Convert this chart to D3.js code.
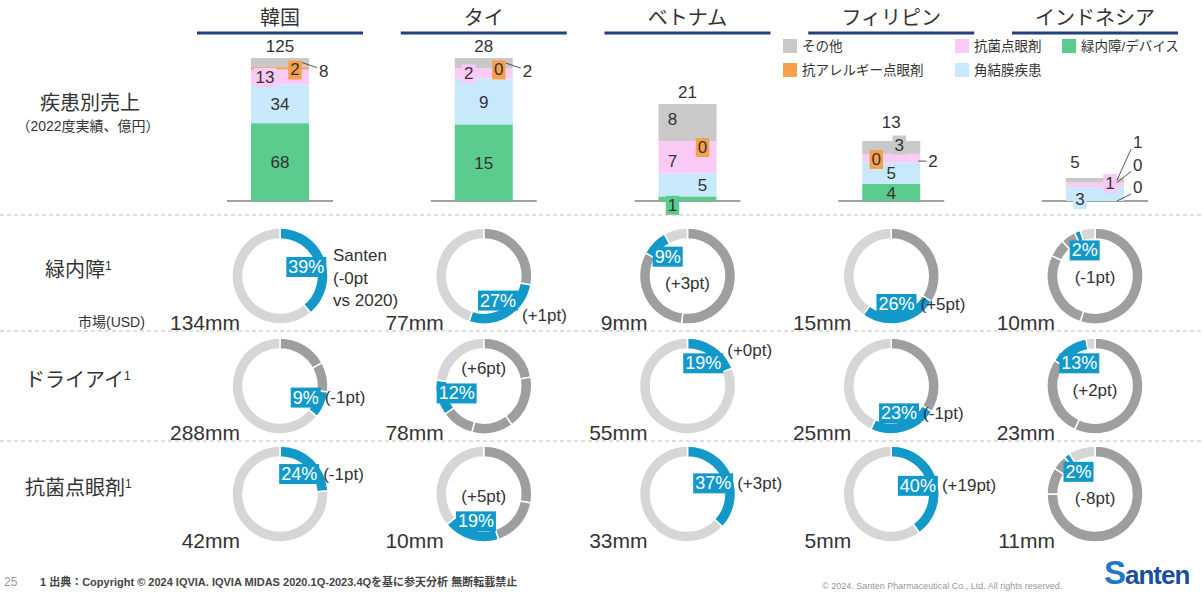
<!DOCTYPE html>
<html>
<head>
<meta charset="utf-8">
<title>asia-sales-share</title>
<style>
  body { margin: 0; background: #fff; }
  svg text { font-family: "Liberation Sans", "Noto Sans CJK JP", sans-serif; fill: #333; }
</style>
</head>
<body>
<script src="https://cdn.jsdelivr.net/npm/d3@7/dist/d3.min.js"></script>
<script>
/*========= DATA =========*/
var countries = ['韓国', 'タイ', 'ベトナム', 'フィリピン', 'インドネシア'];

// 疾患別売上 (2022度実績、億円)
var salesTotal   = [125, 28, 21, 13, 5];
var glaucomaSales = [68, 15, 1, 4, 0];   // 緑内障/デバイス
var corneaSales   = [34, 9, 5, 5, 3];    // 角結膜疾患
var antibacSales  = [13, 2, 7, 2, 1];    // 抗菌点眼剤
var allergySales  = [2, 0, 0, 0, 0];     // 抗アレルギー点眼剤
var otherSales    = [8, 2, 8, 3, 1];     // その他

var categoryKeys   = ['glaucoma', 'cornea', 'antibac', 'allergy', 'other'];
var categoryNames  = ['緑内障/デバイス', '角結膜疾患', '抗菌点眼剤', '抗アレルギー点眼剤', 'その他'];

// donut rows
var diseases   = ['緑内障', 'ドライアイ', '抗菌点眼剤'];
var marketSize = [[134, 77, 9, 15, 10], [288, 78, 55, 25, 23], [42, 10, 33, 5, 11]];
var santenShare = [[39, 27, 9, 26, 2], [9, 12, 19, 23, 13], [24, 19, 37, 40, 2]];
var shareChange = [['-0', '+1', '+3', '+5', '-1'], ['-1', '+6', '+0', '-1', '+2'], ['-1', '+5', '+3', '+19', '-8']];
// competitor shares drawn clockwise before Santen
var competitorShares = [
    [[], [28], [52, 31], [34], [55, 27, 6, 5]],
    [[17, 10], [22, 18, 14, 11], [], [34], [57, 27]],
    [[], [28, 17], [], [], [75, 9, 5]]
];

/*========= STYLE / LAYOUT =========*/
var catColor = {
    glaucoma: '#5ccb8e', cornea: '#c8e9fb', antibac: '#fbcaf5', allergy: '#f7a04b', other: '#c9c9c9'
};
var santenBlue = '#1399c9', darkGray = '#9d9ea0', lightGray = '#d6d6d6';

// placement of the value labels on each bar
var barLabelLayout = {
    '韓国':      { totalDx: 0, totalDy: 0, glaucoma: {m: 'in'}, cornea: {m: 'in'}, antibac: {m: 'box', dx: -15, dy: 0}, allergy: {m: 'box', dx: 15, dy: 1}, other: {m: 'out', dx: 10, dy: 8} },
    'タイ':      { totalDx: 0, totalDy: 0, glaucoma: {m: 'in'}, cornea: {m: 'in'}, antibac: {m: 'box', dx: -15, dy: 0}, allergy: {m: 'box', dx: 15, dy: 1}, other: {m: 'out', dx: 10, dy: 8} },
    'ベトナム':   { totalDx: 0, totalDy: 0, glaucoma: {m: 'box', dx: -15, dy: 6}, cornea: {m: 'in', dx: 15}, antibac: {m: 'in', dx: -15, dy: 4}, allergy: {m: 'box', dx: 15, dy: 6}, other: {m: 'in', dx: -15, dy: -4} },
    'フィリピン': { totalDx: 0, totalDy: -7, glaucoma: {m: 'in'}, cornea: {m: 'in'}, antibac: {m: 'out', dx: 8, dy: 3, flat: true}, allergy: {m: 'box', dx: -15, dy: 5}, other: {m: 'box', dx: 8, dy: -3} },
    'インドネシア': { totalDx: -20, totalDy: -4, glaucoma: {m: 'out', dx: 9, dy: -14}, cornea: {m: 'box', dx: -15, dy: 5}, antibac: {m: 'box', dx: 15, dy: -2}, allergy: {m: 'out', dx: 9, dy: -18}, other: {m: 'out', dx: 9, dy: -38} }
};
// where the "(±pt)" note sits relative to the blue label
var notePlace = [
    ['santen', 'rightDown', 'below', 'right', 'below'],
    ['right', 'above', 'rightUp', 'right', 'below'],
    ['right', 'above', 'right', 'right', 'below']
];

var svgWidth = 1203, svgHeight = 593;
var svg = d3.select('body').append('svg').attr('width', svgWidth).attr('height', svgHeight);

var x = d3.scalePoint().domain(countries).range([280, 1095]);

/*========= HEADERS =========*/
var head = svg.append('g').attr('class', 'heads');
head.selectAll('text').data(countries).enter().append('text')
    .attr('x', function (d) { return x(d); }).attr('y', 25)
    .attr('text-anchor', 'middle').attr('font-size', 20).style('fill', '#333')
    .text(function (d) { return d; });
head.selectAll('line').data(countries).enter().append('line')
    .attr('x1', function (d) { return x(d) - 83; }).attr('x2', function (d) { return x(d) + 83; })
    .attr('y1', 33).attr('y2', 33).attr('stroke', '#20407f').attr('stroke-width', 3);

svg.append('text').attr('x', 90).attr('y', 110).attr('text-anchor', 'middle')
    .attr('font-size', 20).text('疾患別売上');
svg.append('text').attr('x', 88).attr('y', 131).attr('text-anchor', 'middle')
    .attr('font-size', 14).text('（2022度実績、億円）');

/*========= LEGEND =========*/
var legendItems = [
    {k: 'other', x: 783, y: 39}, {k: 'antibac', x: 955, y: 39}, {k: 'glaucoma', x: 1062, y: 39},
    {k: 'allergy', x: 783, y: 63}, {k: 'cornea', x: 955, y: 63}
];
var legend = svg.append('g').attr('class', 'legend');
legendItems.forEach(function (it) {
    legend.append('rect').attr('x', it.x).attr('y', it.y).attr('width', 14).attr('height', 14)
        .attr('fill', catColor[it.k]);
    legend.append('text').attr('x', it.x + 19).attr('y', it.y + 12).attr('font-size', 13.5)
        .text(categoryNames[categoryKeys.indexOf(it.k)]);
});

/*========= STACKED BARS =========*/
var baseY = 201, barW = 58;
var hScale = d3.scaleLinear().domain([0, 21, 28]).range([0, 97, 143]).clamp(true);

var rows = countries.map(function (c, i) {
    return { country: c, glaucoma: glaucomaSales[i], cornea: corneaSales[i], antibac: antibacSales[i],
             allergy: allergySales[i], other: otherSales[i] };
});
var stackData = d3.stack().keys(categoryKeys)(rows);
var yScales = rows.map(function (r, i) {
    var sum = d3.sum(categoryKeys, function (k) { return r[k]; });
    return d3.scaleLinear().domain([0, sum]).range([baseY, baseY - hScale(salesTotal[i])]);
});

var bars = svg.append('g').attr('class', 'bars');
bars.selectAll('.base').data(countries).enter().append('line').attr('class', 'base')
    .attr('x1', function (d) { return x(d) - 53; }).attr('x2', function (d) { return x(d) + 53; })
    .attr('y1', baseY).attr('y2', baseY).attr('stroke', '#444').attr('stroke-width', 1);

bars.selectAll('.series').data(stackData).enter().append('g').attr('class', 'series')
    .attr('fill', function (d) { return catColor[d.key]; })
    .selectAll('rect').data(function (d) { return d; }).enter().append('rect')
    .attr('x', function (d) { return x(d.data.country) - barW / 2; })
    .attr('width', barW)
    .attr('y', function (d, i) { return yScales[i](d[1]); })
    .attr('height', function (d, i) { return yScales[i](d[0]) - yScales[i](d[1]); });

var labelG = svg.append('g').attr('class', 'bar-labels');
stackData.forEach(function (series) {
    series.forEach(function (d, i) {
        var c = d.data.country, lay = barLabelLayout[c][series.key];
        var cx = x(c), yS = yScales[i];
        var segY = (yS(d[0]) + yS(d[1])) / 2;
        var val = d.data[series.key];
        var dx = lay.dx || 0, dy = lay.dy || 0;
        if (lay.m === 'out') {
            var lx = cx + barW / 2 + dx, ly = segY + dy;
            if (lay.flat) {
                labelG.append('line').attr('x1', cx + barW / 2 - 2).attr('x2', lx - 2)
                    .attr('y1', ly).attr('y2', ly).attr('stroke', '#555');
            } else {
                labelG.append('line').attr('x1', cx + barW / 2 - 7).attr('y1', segY)
                    .attr('x2', lx - 2).attr('y2', ly + (dy < 0 ? 7 : -3)).attr('stroke', '#555');
            }
            labelG.append('text').attr('x', lx).attr('y', ly).attr('dy', '0.36em')
                .attr('font-size', 17).text(val);
        } else {
            var t = labelG.append('text').attr('x', cx + dx).attr('y', segY + dy).attr('dy', '0.36em')
                .attr('text-anchor', 'middle').attr('font-size', 17).text(val);
            if (lay.m === 'box') {
                var bb = t.node().getBBox();
                labelG.insert('rect', function () { return t.node(); })
                    .attr('x', bb.x - 2).attr('y', bb.y).attr('width', bb.width + 4).attr('height', bb.height)
                    .attr('fill', catColor[series.key]);
            }
        }
    });
});

labelG.selectAll('.total').data(countries).enter().append('text').attr('class', 'total')
    .attr('x', function (d) { return x(d) + barLabelLayout[d].totalDx; })
    .attr('y', function (d, i) { return baseY - hScale(salesTotal[i]) - 6 + barLabelLayout[d].totalDy; })
    .attr('text-anchor', 'middle').attr('font-size', 17)
    .text(function (d, i) { return salesTotal[i]; });

/*========= SEPARATORS =========*/
[215, 331, 441].forEach(function (y) {
    svg.append('line').attr('x1', 0).attr('x2', svgWidth).attr('y1', y).attr('y2', y)
        .attr('stroke', '#bdbdbd').attr('stroke-dasharray', '4,3');
});

/*========= DONUTS =========*/
var rowY = [276, 386, 494];
var outerR = 48, innerR = 37;
var pie = d3.pie().sort(null).value(function (d) { return d.v; });
var arc = d3.arc().innerRadius(innerR).outerRadius(outerR);
var rowLabelX = [45, 25, 25];

diseases.forEach(function (dis, r) {
    var cy = rowY[r];
    var lab = svg.append('text').attr('x', rowLabelX[r]).attr('y', cy + 1).attr('font-size', 20).text(dis);
    lab.append('tspan').attr('font-size', 12).attr('dy', -7).text('1');

    countries.forEach(function (c, i) {
        var cx = x(c);
        var parts = competitorShares[r][i].map(function (v) { return {v: v, t: 'comp'}; });
        parts.push({v: santenShare[r][i], t: 'santen'});
        var rest = 100 - d3.sum(parts, function (p) { return p.v; });
        if (rest > 0) parts.push({v: rest, t: 'rest'});

        var g = svg.append('g').attr('transform', 'translate(' + cx + ',' + cy + ')');
        var arcs = pie(parts);
        g.selectAll('path').data(arcs).enter().append('path')
            .attr('d', arc)
            .attr('fill', function (d) {
                return d.data.t === 'santen' ? santenBlue : d.data.t === 'comp' ? darkGray : lightGray;
            })
            .attr('stroke', '#fff').attr('stroke-width', 1.5);

        // blue share label
        var s = arcs.filter(function (d) { return d.data.t === 'santen'; })[0];
        var a = (s.startAngle + s.endAngle) / 2;
        var bx = 28 * Math.sin(a), by = -28 * Math.cos(a);
        var t = g.append('text').attr('x', bx).attr('y', by).attr('dy', '0.36em')
            .attr('text-anchor', 'middle').attr('font-size', 18).style('fill', '#fff')
            .text(santenShare[r][i] + '%');
        var bb = t.node().getBBox();
        g.insert('rect', function () { return t.node(); })
            .attr('x', bb.x - 2).attr('y', bb.y).attr('width', bb.width + 4).attr('height', bb.height)
            .attr('fill', santenBlue);

        // change note
        var note = '(' + shareChange[r][i] + 'pt)';
        var place = notePlace[r][i];
        var rx = bb.x + bb.width + 6;
        if (place === 'santen') {
            var nt = g.append('text').attr('x', outerR + 5).attr('y', -15).attr('font-size', 17);
            nt.append('tspan').attr('x', outerR + 5).attr('dy', 0).text('Santen');
            nt.append('tspan').attr('x', outerR + 5).attr('dy', 23).text('(' + shareChange[r][i] + 'pt');
            nt.append('tspan').attr('x', outerR + 5).attr('dy', 22).text('vs 2020)');
        } else if (place === 'right' || place === 'rightUp' || place === 'rightDown') {
            var off = place === 'rightUp' ? -13 : place === 'rightDown' ? 15 : 0;
            g.append('text').attr('x', rx).attr('y', by + off).attr('dy', '0.36em')
                .attr('font-size', 17).text(note);
        } else {
            var ny = place === 'below' ? by + 27 : by - 25;
            g.append('text').attr('x', 0).attr('y', ny).attr('dy', '0.36em')
                .attr('text-anchor', 'middle').attr('font-size', 17).text(note);
        }

        // market size
        g.append('text').attr('x', -40).attr('y', 54).attr('text-anchor', 'end')
            .attr('font-size', 21).text(marketSize[r][i] + 'mm');
    });
});
svg.append('text').attr('x', 78).attr('y', 327).attr('font-size', 14).text('市場(USD)');

/*========= FOOTER =========*/
svg.append('text').attr('x', 4).attr('y', 586).attr('font-size', 12).style('fill', '#999').text('25');
svg.append('text').attr('x', 40).attr('y', 586).attr('font-size', 11).attr('font-weight', 'bold')
    .style('fill', '#444')
    .text('1 出典：Copyright © 2024 IQVIA. IQVIA MIDAS 2020.1Q-2023.4Qを基に参天分析 無断転載禁止');
svg.append('text').attr('x', 822).attr('y', 589).attr('font-size', 9).style('fill', '#999')
    .text('© 2024. Santen Pharmaceutical Co., Ltd. All rights reserved.');
var logo = svg.append('text').attr('x', 1104).attr('y', 584).attr('font-weight', 'bold')
    .style('fill', '#1a4fa0').attr('letter-spacing', -1);
logo.append('tspan').attr('font-size', 33).style('fill', '#1f78c8').text('S');
logo.append('tspan').attr('font-size', 26).text('anten');
</script>
</body>
</html>
